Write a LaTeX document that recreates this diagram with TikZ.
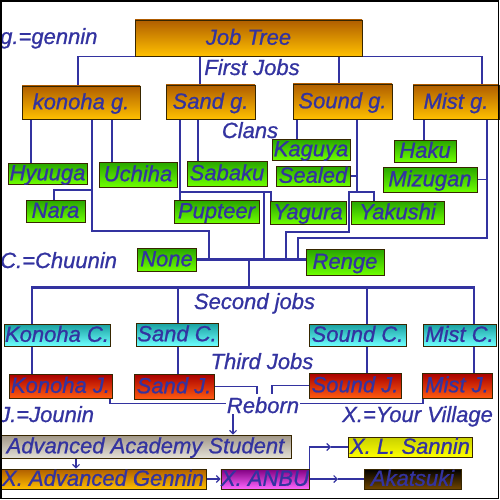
\documentclass[tikz,border=0pt]{standalone}
\usepackage{fontspec}
\setmainfont{Liberation Sans}
\newfontfamily\lblfamily{Liberation Sans}[FakeBold=0.9]
\usetikzlibrary{arrows.meta}
\pgfdeclarelayer{bg}
\pgfsetlayers{bg,main}
\definecolor{txt}{RGB}{51,51,160}
\definecolor{lnc}{RGB}{51,51,160}
\definecolor{bdr}{RGB}{55,38,0}
\definecolor{otop}{RGB}{176,94,0}
\definecolor{obot}{RGB}{255,192,0}
\definecolor{gtop}{RGB}{40,165,0}
\definecolor{gbot}{RGB}{110,255,0}
\definecolor{ctop}{RGB}{25,160,160}
\definecolor{cbot}{RGB}{110,255,255}
\definecolor{rtop}{RGB}{168,0,0}
\definecolor{rbot}{RGB}{255,90,16}
\definecolor{atop}{RGB}{160,150,135}
\definecolor{abot}{RGB}{228,224,214}
\definecolor{ptop}{RGB}{128,0,128}
\definecolor{pbot}{RGB}{255,102,255}
\definecolor{ytop}{RGB}{200,208,0}
\definecolor{ybot}{RGB}{255,255,0}
\definecolor{ktop}{RGB}{0,0,0}
\definecolor{kbot}{RGB}{112,70,0}
\newcommand\bx[7]{\node[#6,minimum width={(#4)-(#2)},minimum height={(#5)-(#3)}] (#1) at ({((#2)+(#4))/2},{((#3)+(#5))/2}) {#7};}
\begin{document}
\begin{tikzpicture}[x=1pt,y=-1pt,
  lbl/.style={text=txt,font=\lblfamily\fontsize{22}{24}\selectfont\itshape,inner sep=0pt},
  box/.style={draw=bdr,line width=0.9pt,inner sep=0pt,text=txt,font=\lblfamily\fontsize{22}{24}\selectfont\itshape,text height=15.5pt,text depth=2pt},
  obox/.style={box,top color=otop,bottom color=obot},
  gbox/.style={box,top color=gtop,bottom color=gbot},
  cbox/.style={box,top color=ctop,bottom color=cbot},
  rbox/.style={box,top color=rtop,bottom color=rbot},
  abox/.style={box,top color=atop,middle color=white,bottom color=abot},
  pbox/.style={box,top color=ptop,bottom color=pbot},
  ybox/.style={box,top color=ytop,bottom color=ybot},
  kbox/.style={box,top color=ktop,bottom color=kbot},
  ln/.style={draw=lnc,line width=1.1pt},
  busln/.style={draw=lnc,line width=2.6pt},
  tip/.style={-{Straight Barb[length=3.5pt,width=7pt]}}
]
\useasboundingbox (0,0) rectangle (500,500);
% boxes
\bx{jt}{135}{20}{362}{56}{obox}{Job Tree}
\bx{konohag}{22}{86}{140}{119}{obox}{konoha g.}
\bx{sandg}{166}{85}{255}{119}{obox}{Sand g.}
\bx{soundg}{293}{84}{392}{119}{obox}{Sound g.}
\bx{mistg}{413}{85}{499}{119}{obox}{Mist g.}
\bx{hyuuga}{8}{163}{87}{184}{gbox}{Hyuuga}
\bx{uchiha}{99}{162}{177}{187}{gbox}{Uchiha}
\bx{sabaku}{187}{161}{267}{186}{gbox}{Sabaku}
\bx{nara}{26}{200}{85}{222}{gbox}{Nara}
\bx{pupteer}{174}{200}{259}{223}{gbox}{Pupteer}
\bx{kaguya}{272}{139}{350}{160}{gbox}{Kaguya}
\bx{sealed}{276}{166}{350}{186}{gbox}{Sealed}
\bx{yagura}{270}{201}{346}{224}{gbox}{Yagura}
\bx{yakushi}{351}{201}{444}{224}{gbox}{Yakushi}
\bx{haku}{394}{140}{456}{162}{gbox}{Haku}
\bx{mizugan}{383}{167}{477}{192}{gbox}{Mizugan}
\bx{none}{137}{248}{196}{271}{gbox}{None}
\bx{renge}{306}{249}{384}{275}{gbox}{Renge}
\bx{konohac}{4}{324}{110}{346}{cbox}{Konoha C.}
\bx{sandc}{136}{323}{218}{346}{cbox}{Sand C.}
\bx{soundc}{309}{324}{406}{346}{cbox}{Sound C.}
\bx{mistc}{423}{324}{496}{346}{cbox}{Mist C.}
\bx{konohaj}{9}{374}{112}{398}{rbox}{Konoha J.}
\bx{sandj}{134}{374}{214}{399}{rbox}{Sand J.}
\bx{soundj}{309}{373}{401}{398}{rbox}{Sound J.}
\bx{mistj}{422}{373}{492}{398}{rbox}{Mist J.}
\bx{aas}{0}{435}{291}{458}{abox}{Advanced Academy Student}
\bx{xag}{0}{469}{206}{489}{obox}{X. Advanced Gennin}
\bx{anbu}{221}{469}{309}{489}{pbox}{X. ANBU}
\bx{sannin}{348}{437}{472}{457}{ybox}{X. L. Sannin}
\bx{akatsuki}{364}{469}{461}{489}{kbox}{Akatsuki}
% labels
\node[lbl,anchor=base west] (lgennin) at (0,44) {g.=gennin};
\node[lbl,anchor=base] (lfirst) at (252,75) {First Jobs};
\node[lbl,anchor=base] (lclans) at (250,138) {Clans};
\node[lbl,anchor=base west] (lchuunin) at (0,268) {C.=Chuunin};
\node[lbl,anchor=base] (lsecond) at (254.5,309) {Second jobs};
\node[lbl,anchor=base] (lthird) at (262,369) {Third Jobs};
\node[lbl,anchor=base west] (ljounin) at (-1,422) {J.=Jounin};
\node[lbl,anchor=base west] (lvillage) at (342,422) {X.=Your Village};
\node[lbl,anchor=base,inner sep=1pt] (reborn) at (263,413) {Reborn};
% connectors
\begin{pgfonlayer}{bg}
\draw[ln] (konohag.north -| 78,0) |- (jt.south) -| (mistg.north -| 482,0);
\draw[ln] (sandg.north -| 200,0) -- (jt.south -| 200,0);
\draw[ln] (soundg.north -| 339,0) -- (jt.south -| 339,0);
% konoha
\draw[ln] (konohag.south -| 31,0) -- (hyuuga.north -| 31,0);
\draw[ln] (konohag.south -| 112,0) -- (uchiha.north -| 112,0);
\draw[ln] (konohag.south -| 92,0) |- (209,231) -- (none.east -| 209,0);
\draw[ln] (92,190) -| (nara.north -| 54,0);
% sand
\draw[ln] (sandg.south -| 198,0) -- (sabaku.north -| 198,0);
\draw[ln] (sandg.south -| 180,0) -- (pupteer.north -| 180,0);
\draw[ln] (180,192) -| (yagura.north -| 271,0);
\draw[ln] (264,192) -- (none.east -| 264,0);
% sound
\draw[ln] (soundg.south -| 297,0) -- (kaguya.north -| 297,0);
\draw[ln] (soundg.south -| 357,0) -- (357,192);
\draw[ln] (sealed.east) -- (sealed.east -| 357,0);
\draw[ln] (none.east -| 286,0) |- (349,232) |- (374,192) -- (yakushi.north -| 374,0);
% mist
\draw[ln] (mistg.south -| 424,0) -- (haku.north -| 424,0);
\draw[ln] (mistg.south -| 487,0) |- (298,238) -- (none.east -| 298,0);
\draw[ln] (mizugan.east) -- (mizugan.east -| 487,0);
% buses
\draw[busln] (none.east) -- (renge.west |- none.east);
\coordinate (b2) at (249,287.5);
\draw[busln] (none.east -| b2) -- (b2);
\draw[busln] (31,287.5) -- (475,287.5);
\draw[ln] (konohac.north -| 32,0) -- (b2 -| 32,0);
\draw[ln] (sandc.north -| 178,0) -- (b2 -| 178,0);
\draw[ln] (soundc.north -| 367,0) -- (b2 -| 367,0);
\draw[ln] (mistc.north -| 474,0) -- (b2 -| 474,0);
% C -> J
\draw[ln] (konohac.south -| 32,0) -- (konohaj.north -| 32,0);
\draw[ln] (sandc.south -| 178,0) -- (sandj.north -| 178,0);
\draw[ln] (soundc.south -| 367,0) -- (soundj.north -| 367,0);
\draw[ln] (mistc.south -| 474,0) -- (mistj.north -| 474,0);
% reborn
\draw[ln] (konohaj.south -| 110,0) |- ([yshift=2pt]reborn.west);
\draw[ln] (mistj.south -| 423,0) |- ([yshift=2pt]reborn.east);
\draw[ln] (sandj.east) -| (257,394);
\draw[ln] (soundj.west) -| (272,394);
\draw[ln,tip] (reborn.south -| 233,0) -- (aas.north -| 233,0);
\draw[ln,tip] (aas.south -| 76,0) -- (xag.north -| 76,0);
\draw[ln,tip] (xag.east) -- (anbu.west);
\coordinate (m1) at (331,447);
\draw[ln,tip] (anbu.north east) |- (m1);
\draw[ln] (m1) -- (sannin.west);
\coordinate (m2) at (338,479);
\draw[ln,tip] (anbu.east) -- (m2);
\draw[ln] (m2) -- (akatsuki.west);
\end{pgfonlayer}
% outer frame
\draw[black,line width=1.6pt] (0.8,0.8) rectangle (498.6,498.6);
\end{tikzpicture}
\end{document}
